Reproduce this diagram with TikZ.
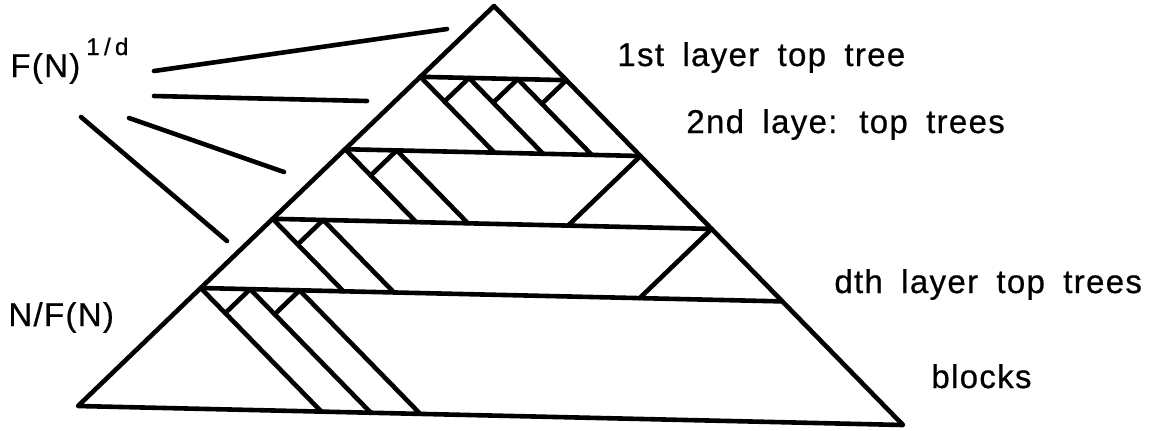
\documentclass[tikz,border=0pt]{standalone}
\usepackage{fontspec}
\newfontfamily\labfont[LetterSpace=4,WordSpace=1.75,FakeBold=0.6]{Liberation Sans}
\newfontfamily\supfont[LetterSpace=18,FakeBold=0.6]{Liberation Sans}
\usetikzlibrary{calc}
\newcommand\subtri[4]{%
  \coordinate (P) at ($ ($(A)!#1!(BL)$)!#2!($(A)!#1!(BR)$) $);
  \draw[ln] ($(P)+#4*(va)$) -- (P) -- ($(P)+#3*(vb)$);}
\begin{document}
\begin{tikzpicture}[x=0.5pt,y=-0.5pt,
  ln/.style={line width=2.3pt,line join=round,line cap=round},
  lab/.style={anchor=base west,inner sep=0pt,font=\labfont\fontsize{16.5}{19}\selectfont}]
\useasboundingbox (0,0) rectangle (1156,430);
% main triangle
\coordinate (A) at (494,6);
\coordinate (BL) at (78,406);
\coordinate (BR) at (903,425);
\coordinate (va) at ($(BL)-(A)$);
\coordinate (vb) at ($(BR)-(A)$);
\draw[ln] (BL) -- (A) -- (BR) -- cycle;
% layer lines
\foreach \t in {0.177,0.358,0.532,0.705}
  \draw[ln] ($(A)!\t!(BL)$) -- ($(A)!\t!(BR)$);
% 2nd layer top trees
\subtri{0.177}{0}{0.181}{0}
\subtri{0.177}{0.3333}{0.181}{0.059}
\subtri{0.177}{0.6667}{0.181}{0.059}
\subtri{0.177}{1}{0}{0.059}
% next layer
\subtri{0.358}{0}{0.174}{0}
\subtri{0.358}{0.175}{0.174}{0.0627}
\subtri{0.358}{1}{0}{0.174}
% dth layer
\subtri{0.532}{0}{0.173}{0}
\subtri{0.532}{0.115}{0.173}{0.0612}
\subtri{0.532}{1}{0}{0.173}
% blocks
\subtri{0.705}{0}{0.295}{0}
\subtri{0.705}{0.085}{0.295}{0.06}
\subtri{0.705}{0.17}{0.295}{0.06}
% pointer lines
\coordinate (pa1) at (154,71);  \coordinate (pa2) at (447,29);
\coordinate (pb1) at (154,96);  \coordinate (pb2) at (367,101);
\coordinate (pc1) at (129,118); \coordinate (pc2) at (284,172);
\coordinate (pd1) at (81,117);  \coordinate (pd2) at (227,241);
\draw[ln] (pa1) -- (pa2);
\draw[ln] (pb1) -- (pb2);
\draw[ln] (pc1) -- (pc2);
\draw[ln] (pd1) -- (pd2);
% labels
\node[lab] (fn) at (10,77) {F(N)};
\node[lab,font=\supfont\fontsize{12}{14}\selectfont] (fexp) at (86,55) {1/d};
\node[lab] (nfn) at (8,326) {N/F(N)};
\node[lab] (l1) at (617,66) {1st layer top tree};
\node[lab] (l2) at (686,133) {2nd laye: top trees};
\node[lab] (ld) at (834,293) {dth layer top trees};
\node[lab] (lb) at (931,388) {blocks};
\end{tikzpicture}
\end{document}
